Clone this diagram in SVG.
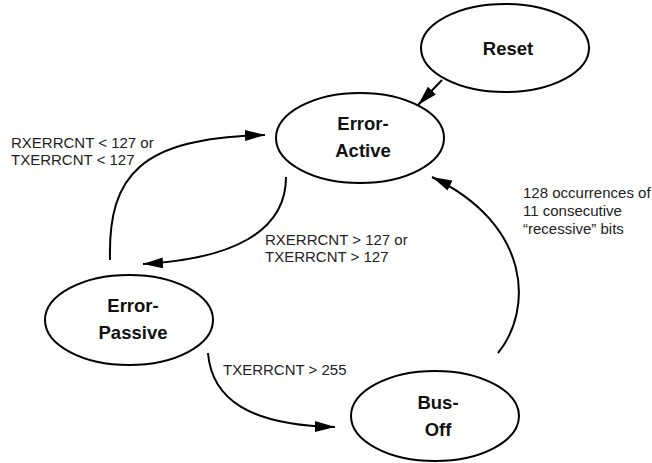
<svg xmlns="http://www.w3.org/2000/svg" width="652" height="463" viewBox="0 0 652 463">
<defs>
<marker id="ah" markerUnits="userSpaceOnUse" markerWidth="22" markerHeight="12" refX="20" refY="5.5" orient="auto">
<path d="M0,0 L20,5.5 L0,11 z" fill="#000"/>
</marker>
<style>
.node ellipse{fill:#fff;stroke:#000;stroke-width:2}
.node text{font-family:"Liberation Sans",Arial,sans-serif;font-weight:bold;font-size:18.5px;fill:#111;text-anchor:middle}
.edge{fill:none;stroke:#000;stroke-width:2;marker-end:url(#ah)}
.lbl{font-family:"Liberation Sans",Arial,sans-serif;font-size:15px;fill:#222}
</style>
</defs>
<rect width="652" height="463" fill="#fff"/>
<g id="connectors">
<path class="edge" d="M442,80 L418,105"/>
<path class="edge" d="M110,260 C108,175 140,138 265,135"/>
<path class="edge" d="M286,177 C286,232 232,259 143,264"/>
<path class="edge" d="M208,353 C212,400 250,425 335,427"/>
<path class="edge" d="M498,353 C533,310 532,225 432,177"/>
</g>
<g id="labels">
<text class="lbl" x="11" y="148">RXERRCNT &lt; 127 or</text>
<text class="lbl" x="11" y="165">TXERRCNT &lt; 127</text>
<text class="lbl" x="265" y="245">RXERRCNT &gt; 127 or</text>
<text class="lbl" x="265" y="262">TXERRCNT &gt; 127</text>
<text class="lbl" x="223" y="375">TXERRCNT &gt; 255</text>
<text class="lbl" x="523" y="198">128 occurrences of</text>
<text class="lbl" x="523" y="216">11 consecutive</text>
<text class="lbl" x="523" y="234">“recessive” bits</text>
</g>
<g id="reset" class="node">
<ellipse cx="505" cy="48" rx="84" ry="44"/>
<text x="508" y="55">Reset</text>
</g>
<g id="error-active" class="node">
<ellipse cx="360" cy="138" rx="84" ry="45"/>
<text x="363" y="130">Error-</text>
<text x="363" y="157">Active</text>
</g>
<g id="error-passive" class="node">
<ellipse cx="129" cy="320" rx="84" ry="45"/>
<text x="133" y="312">Error-</text>
<text x="133" y="339">Passive</text>
</g>
<g id="bus-off" class="node">
<ellipse cx="435" cy="416" rx="84" ry="45"/>
<text x="438" y="409">Bus-</text>
<text x="438" y="436">Off</text>
</g>
</svg>
